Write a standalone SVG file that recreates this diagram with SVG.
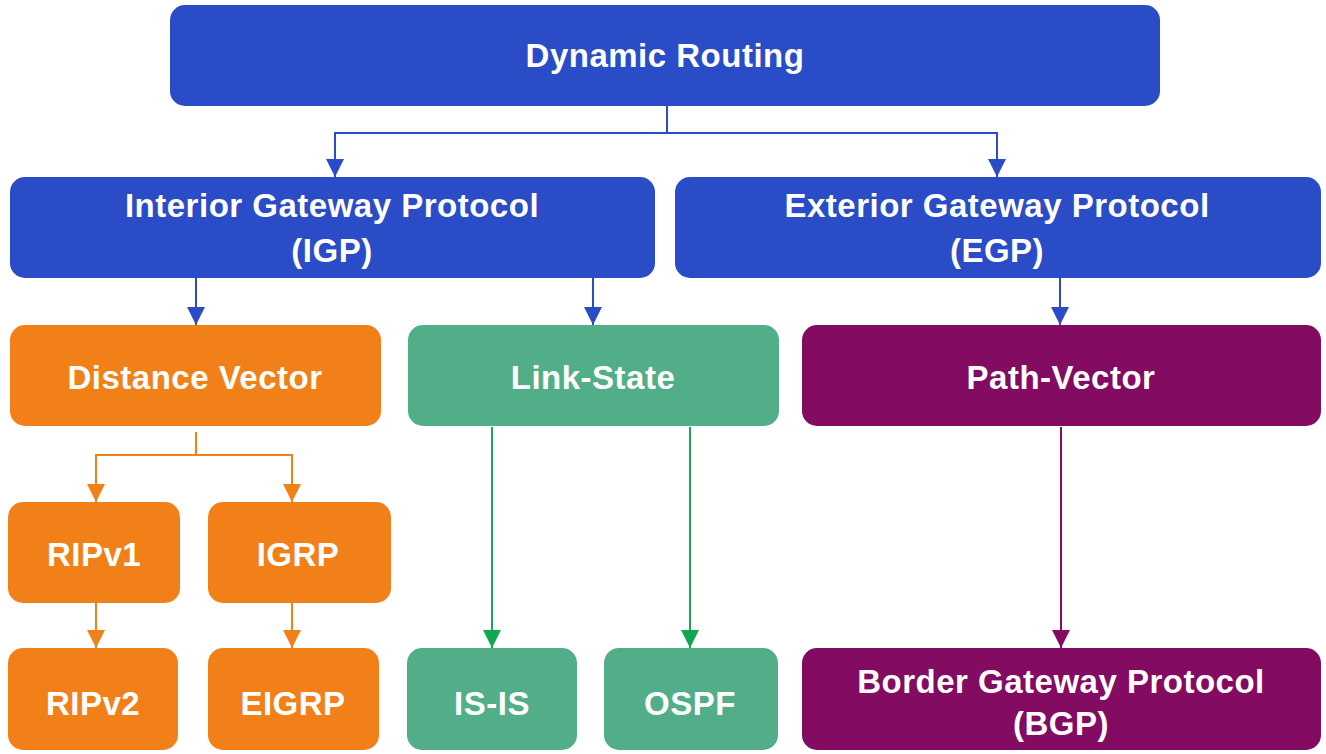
<svg xmlns="http://www.w3.org/2000/svg" width="1326" height="754" viewBox="0 0 1326 754">
  <defs>
    <style>
      .lbl { font-family: "Liberation Sans", Arial, sans-serif; font-weight: bold; font-size: 33px; letter-spacing: 0.5px; fill: #ffffff; text-anchor: middle; dominant-baseline: central; }
      .blue { fill: #2a4cc6; }
      .orange { fill: #f28018; }
      .green { fill: #52ae88; }
      .purple { fill: #830b62; }
      .ln { fill: none; stroke-width: 2; }
      .lb { stroke: #2a4cc6; }
      .lo { stroke: #f28018; }
      .lg { stroke: #1ca55a; }
      .lp { stroke: #830b62; }
    </style>
    <marker id="ao" markerWidth="18" markerHeight="18" refX="18" refY="9" orient="auto" markerUnits="userSpaceOnUse" viewBox="0 0 18 18">
      <path d="M0,0 L18,9 L0,18 Z" fill="#f28018"/>
    </marker>
    <marker id="ag" markerWidth="18" markerHeight="18" refX="18" refY="9" orient="auto" markerUnits="userSpaceOnUse" viewBox="0 0 18 18">
      <path d="M0,0 L18,9 L0,18 Z" fill="#0fa84e"/>
    </marker>
    <marker id="ap" markerWidth="18" markerHeight="18" refX="18" refY="9" orient="auto" markerUnits="userSpaceOnUse" viewBox="0 0 18 18">
      <path d="M0,0 L18,9 L0,18 Z" fill="#830b62"/>
    </marker>
    <marker id="abl" markerWidth="18" markerHeight="18" refX="18" refY="9" orient="auto" markerUnits="userSpaceOnUse" viewBox="0 0 18 18">
      <path d="M0,0 L18,9 L0,18 Z" fill="#2a4cc6"/>
    </marker>
  </defs>
  <rect width="1326" height="754" fill="#ffffff"/>

  <!-- connectors -->
  <g id="connectors">
    <path class="ln lb" d="M667,106 V133 H335 V177" marker-end="url(#abl)"/>
    <path class="ln lb" d="M667,133 H997 V177" marker-end="url(#abl)"/>
    <path class="ln lb" d="M196,278 V325" marker-end="url(#abl)"/>
    <path class="ln lb" d="M593,278 V325" marker-end="url(#abl)"/>
    <path class="ln lb" d="M1060,278 V325" marker-end="url(#abl)"/>
    <path class="ln lo" d="M196,432 V455 H96 V502" marker-end="url(#ao)"/>
    <path class="ln lo" d="M196,455 H292 V502" marker-end="url(#ao)"/>
    <path class="ln lo" d="M96,603 V648" marker-end="url(#ao)"/>
    <path class="ln lo" d="M292,603 V648" marker-end="url(#ao)"/>
    <path class="ln lg" d="M492,427 V648" marker-end="url(#ag)"/>
    <path class="ln lg" d="M690,427 V648" marker-end="url(#ag)"/>
    <path class="ln lp" d="M1061,427 V648" marker-end="url(#ap)"/>
  </g>

  <g id="dynamic-routing">
    <rect class="blue" x="170" y="5" width="990" height="101" rx="15"/>
    <text class="lbl" x="665" y="55">Dynamic Routing</text>
  </g>
  <g id="igp">
    <rect class="blue" x="10" y="177" width="645" height="101" rx="15"/>
    <text class="lbl" x="332" y="205">Interior Gateway Protocol</text>
    <text class="lbl" x="332" y="250">(IGP)</text>
  </g>
  <g id="egp">
    <rect class="blue" x="675" y="177" width="646" height="101" rx="15"/>
    <text class="lbl" x="997" y="205">Exterior Gateway Protocol</text>
    <text class="lbl" x="997" y="250">(EGP)</text>
  </g>
  <g id="distance-vector">
    <rect class="orange" x="10" y="325" width="371" height="101" rx="15"/>
    <text class="lbl" x="195" y="377">Distance Vector</text>
  </g>
  <g id="link-state">
    <rect class="green" x="408" y="325" width="371" height="101" rx="15"/>
    <text class="lbl" x="593" y="377">Link-State</text>
  </g>
  <g id="path-vector">
    <rect class="purple" x="802" y="325" width="519" height="101" rx="15"/>
    <text class="lbl" x="1061" y="377">Path-Vector</text>
  </g>
  <g id="ripv1">
    <rect class="orange" x="8" y="502" width="172" height="101" rx="15"/>
    <text class="lbl" x="94" y="554">RIPv1</text>
  </g>
  <g id="igrp">
    <rect class="orange" x="208" y="502" width="183" height="101" rx="15"/>
    <text class="lbl" x="298" y="554">IGRP</text>
  </g>
  <g id="ripv2">
    <rect class="orange" x="8" y="648" width="170" height="102" rx="15"/>
    <text class="lbl" x="93" y="703">RIPv2</text>
  </g>
  <g id="eigrp">
    <rect class="orange" x="208" y="648" width="171" height="102" rx="15"/>
    <text class="lbl" x="293" y="703">EIGRP</text>
  </g>
  <g id="is-is">
    <rect class="green" x="407" y="648" width="170" height="102" rx="15"/>
    <text class="lbl" x="492" y="703">IS-IS</text>
  </g>
  <g id="ospf">
    <rect class="green" x="604" y="648" width="174" height="102" rx="15"/>
    <text class="lbl" x="690" y="703">OSPF</text>
  </g>
  <g id="bgp">
    <rect class="purple" x="802" y="648" width="519" height="102" rx="15"/>
    <text class="lbl" x="1061" y="681">Border Gateway Protocol</text>
    <text class="lbl" x="1061" y="723">(BGP)</text>
  </g>
</svg>
